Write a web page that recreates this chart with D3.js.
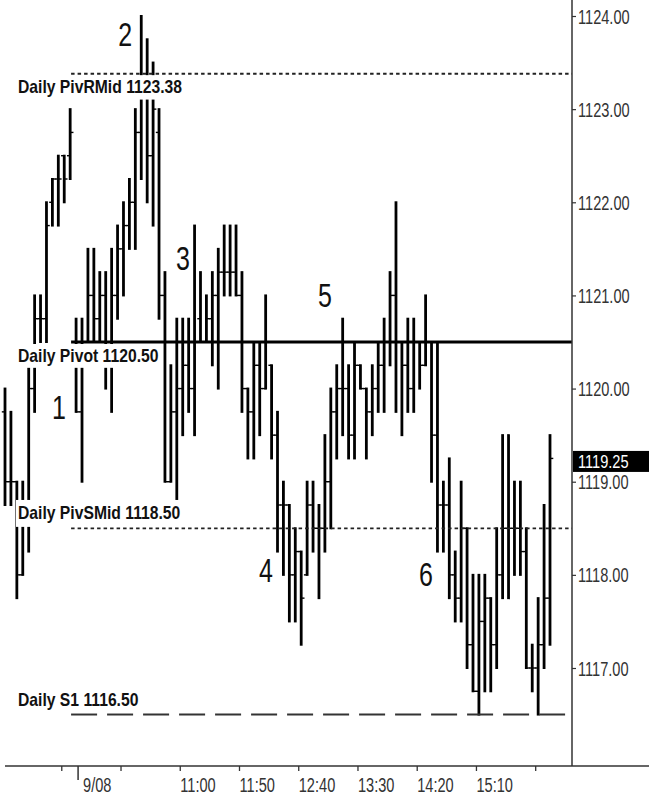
<!DOCTYPE html>
<html>
<head>
<meta charset="utf-8">
<script src="https://cdn.jsdelivr.net/npm/d3@7"></script>
<style>
  html, body { margin: 0; padding: 0; background: #fff; }
  svg { display: block; }
</style>
</head>
<body>
<svg id="chart" width="649" height="797"></svg>
<script>
// 5-minute OHLC bars, ES futures, 9/08 session (first 12 bars are the prior session's close)
const highs = [
  1120.00, 1119.75, 1119.00, 1119.00, 1120.25, 1121.00, 1121.00, 1122.00, 1122.25, 1122.50,
  1122.50, 1123.00, 1120.75, 1120.75, 1121.50, 1121.50, 1121.25, 1121.25, 1121.50, 1121.75,
  1122.00, 1122.25, 1123.00, 1124.00, 1123.75, 1123.50, 1123.00, 1121.25, 1120.25, 1120.75,
  1120.75, 1120.75, 1121.75, 1121.25, 1121.00, 1121.25, 1121.50, 1121.75, 1121.75, 1121.75,
  1121.25, 1120.00, 1120.50, 1120.50, 1121.00, 1120.25, 1119.75, 1119.00, 1118.75, 1118.50,
  1118.25, 1119.00, 1119.00, 1118.75, 1119.50, 1120.00, 1120.25, 1120.75, 1120.25, 1120.50,
  1120.25, 1120.00, 1120.25, 1120.50, 1120.75, 1121.25, 1122.00, 1120.50, 1120.75, 1120.75,
  1120.50, 1121.00, 1120.50, 1120.50, 1119.00, 1119.25, 1118.25, 1119.00, 1118.50, 1118.00,
  1118.00, 1118.00, 1117.75, 1118.50, 1119.50, 1119.50, 1119.00, 1119.00, 1118.50, 1117.25,
  1117.75, 1118.75, 1119.50
];
const lows = [
  1118.75, 1118.75, 1117.75, 1118.00, 1118.25, 1119.75, 1120.50, 1120.50, 1121.75, 1121.75,
  1122.00, 1122.25, 1119.75, 1119.00, 1120.50, 1120.50, 1120.50, 1120.00, 1119.75, 1120.75,
  1121.00, 1121.50, 1121.50, 1122.25, 1122.00, 1121.75, 1120.75, 1119.00, 1119.00, 1118.75,
  1119.50, 1119.75, 1119.50, 1120.50, 1120.50, 1120.25, 1120.00, 1121.00, 1121.00, 1121.00,
  1119.75, 1119.25, 1119.25, 1119.50, 1120.00, 1119.25, 1118.25, 1118.00, 1117.50, 1117.50,
  1117.25, 1118.00, 1118.25, 1117.75, 1118.25, 1118.50, 1119.25, 1119.50, 1119.25, 1119.25,
  1120.00, 1119.25, 1119.50, 1119.75, 1119.75, 1120.25, 1119.75, 1119.50, 1119.75, 1119.75,
  1120.00, 1120.25, 1119.00, 1118.25, 1118.25, 1117.75, 1117.50, 1117.50, 1117.00, 1116.75,
  1116.50, 1116.75, 1116.75, 1117.00, 1117.75, 1117.75, 1118.00, 1118.00, 1117.00, 1116.75,
  1116.50, 1117.00, 1117.25
];
const opens = [
  1119.75, 1119.00, 1119.00, 1118.00, 1118.75, 1120.00, 1120.75, 1120.75, 1122.00, 1122.25,
  1122.50, 1122.50, 1120.50, 1119.75, 1120.50, 1121.00, 1120.75, 1121.00, 1120.25, 1121.00,
  1121.50, 1121.75, 1122.00, 1122.75, 1123.25, 1122.50, 1122.75, 1121.00, 1119.00, 1119.75,
  1120.00, 1120.25, 1120.00, 1120.75, 1120.50, 1120.75, 1121.00, 1121.25, 1121.25, 1121.25,
  1121.00, 1120.00, 1119.75, 1120.25, 1120.00, 1120.25, 1119.50, 1118.75, 1118.75, 1118.00,
  1118.25, 1118.00, 1118.75, 1118.50, 1118.50, 1119.00, 1119.75, 1120.00, 1120.00, 1119.50,
  1120.25, 1120.00, 1119.75, 1120.00, 1120.25, 1120.50, 1121.00, 1120.50, 1120.25, 1120.00,
  1120.50, 1120.25, 1120.50, 1119.50, 1118.75, 1118.75, 1118.00, 1117.75, 1118.50, 1117.25,
  1116.75, 1117.50, 1117.75, 1117.25, 1118.00, 1118.50, 1118.50, 1118.50, 1118.25, 1117.00,
  1117.00, 1117.25, 1117.75
];
const closes = [
  1119.00, 1119.00, 1118.00, 1118.75, 1120.00, 1120.75, 1120.75, 1121.75, 1122.25, 1122.25,
  1122.25, 1122.75, 1119.75, 1120.50, 1121.00, 1120.75, 1121.00, 1120.25, 1121.00, 1121.50,
  1121.75, 1122.00, 1122.75, 1123.25, 1122.50, 1123.00, 1121.00, 1119.00, 1119.75, 1120.00,
  1120.25, 1120.00, 1120.50, 1120.50, 1120.75, 1121.00, 1121.25, 1121.25, 1121.25, 1121.00,
  1120.00, 1119.75, 1120.25, 1120.00, 1120.50, 1119.50, 1118.75, 1118.75, 1118.00, 1118.25,
  1117.75, 1118.75, 1118.50, 1118.50, 1119.00, 1119.75, 1120.00, 1120.00, 1119.50, 1120.25,
  1120.00, 1119.75, 1120.00, 1120.25, 1120.50, 1121.00, 1120.50, 1120.25, 1120.00, 1120.50,
  1120.25, 1120.50, 1119.50, 1118.75, 1118.75, 1118.00, 1117.75, 1118.50, 1117.25, 1116.75,
  1117.50, 1117.75, 1117.25, 1118.00, 1118.50, 1118.50, 1118.50, 1118.25, 1117.00, 1117.00,
  1117.25, 1117.75, 1119.25
];

// Price axis
const priceTicks = [1124, 1123, 1122, 1121, 1120, 1119, 1118, 1117];
const lastPrice = 1119.25;

// Time axis: a tick every 10 bars, placed at the start of that bar
const timeTickBars = [10, 20, 30, 40, 50, 60, 70, 80, 90];
const timeTickLabels = ["", "", "11:00", "11:50", "12:40", "13:30", "14:20", "15:10", ""];
const sessionStartBar = 12;
const sessionLabel = "9/08";

// Daily pivot levels
const levelNames = ["Daily PivRMid", "Daily Pivot", "Daily PivSMid", "Daily S1"];
const levelValues = [1123.38, 1120.50, 1118.50, 1116.50];

// Swing annotations: label, bar anchor, price anchor
const noteLabels = ["1", "2", "3", "4", "5", "6"];
const noteBars = [9.1, 20.3, 30.05, 44.05, 54.0, 71.05];
const notePrices = [1119.80, 1123.80, 1121.40, 1118.05, 1121.00, 1118.00];

const svg = d3.select("#chart");
const FONT = "'Liberation Sans', Arial, Helvetica, sans-serif";

const x = d3.scaleLinear().domain([0, highs.length - 1]).range([5, 550]);
const y = d3.scaleLinear().domain([1117, 1124]).range([668, 16]);

const plotRight = 572;
const axisY = 766;
const levelStart = x(sessionStartBar) - 5;

const bars = d3.range(highs.length).map(i => ({
  i, o: opens[i], h: highs[i], l: lows[i], c: closes[i]
}));

// OHLC bars
const barG = svg.append("g").attr("stroke", "#000");
barG.selectAll("line.hl").data(bars).join("line")
  .attr("class", "hl")
  .attr("x1", d => x(d.i)).attr("x2", d => x(d.i))
  .attr("y1", d => y(d.h) - 1).attr("y2", d => y(d.l) + 1)
  .attr("stroke-width", 2.8);
barG.selectAll("line.op").data(bars).join("line")
  .attr("class", "op")
  .attr("x1", d => x(d.i) - 3.2).attr("x2", d => x(d.i))
  .attr("y1", d => y(d.o)).attr("y2", d => y(d.o))
  .attr("stroke-width", 1.4);
barG.selectAll("line.cl").data(bars).join("line")
  .attr("class", "cl")
  .attr("x1", d => x(d.i)).attr("x2", d => x(d.i) + 3.3)
  .attr("y1", d => y(d.c)).attr("y2", d => y(d.c))
  .attr("stroke-width", 1.4);

// Pivot level lines
const levelStroke = ["3.5,3", null, "3.5,3", "26,10"];
const levelWidth = [1.8, 3, 1.8, 2];
const levelColor = ["#222", "#000", "#222", "#333"];
levelValues.forEach((v, k) => {
  svg.append("line")
    .attr("x1", levelStart).attr("x2", plotRight)
    .attr("y1", y(v)).attr("y2", y(v))
    .attr("stroke", levelColor[k])
    .attr("stroke-width", levelWidth[k])
    .attr("stroke-dasharray", levelStroke[k]);
});

// Level labels on white plates (below the line for the upper two, above for the lower two)
const labelSize = 15.7, labelStretch = 1.19;
levelValues.forEach((v, k) => {
  const below = k < 2;
  const baseline = below ? y(v) + 19.5 : y(v) - 9;
  const plate = svg.append("rect").attr("fill", "#fff");
  const t = svg.append("text")
    .attr("transform", `translate(18,${baseline}) scale(1,${labelStretch})`)
    .attr("font-family", FONT).attr("font-weight", "bold")
    .attr("font-size", labelSize).attr("fill", "#111")
    .text(`${levelNames[k]} ${v.toFixed(2)}`);
  const bb = t.node().getBBox();
  const textTop = baseline + bb.y * labelStretch;
  const textBottom = baseline + (bb.y + bb.height) * labelStretch;
  const top = below ? y(v) + levelWidth[k] / 2 + 0.5 : textTop - 2;
  const bottom = below ? textBottom + 2 : y(v) - levelWidth[k] / 2 - 0.5;
  plate.attr("x", 18 + bb.x - 2).attr("width", bb.width + 4)
    .attr("y", top).attr("height", bottom - top);
});

// Swing annotations
const noteSize = 25, noteStretch = 1.3;
noteLabels.forEach((s, k) => {
  const cx = x(noteBars[k]);
  const cy = y(notePrices[k]);
  svg.append("text")
    .attr("transform", `translate(${cx},${cy + 0.358 * noteSize * noteStretch}) scale(1,${noteStretch})`)
    .attr("text-anchor", "middle")
    .attr("font-family", FONT).attr("font-size", noteSize).attr("fill", "#111")
    .text(s);
});

// Price axis on the right
const axisSize = 14.6, axisStretch = 1.34;
const yAxis = svg.append("g")
  .attr("transform", `translate(${plotRight},0)`)
  .call(d3.axisRight(y).tickValues(priceTicks).tickSize(4).tickPadding(2)
    .tickFormat(d3.format(".2f")));
yAxis.select(".domain").remove();
yAxis.selectAll(".tick line").attr("stroke", "#333").attr("stroke-width", 1.2);
yAxis.selectAll(".tick text")
  .attr("font-family", FONT).attr("font-size", axisSize).attr("fill", "#333")
  .attr("dy", null)
  .attr("transform", `translate(0,${0.358 * axisSize * axisStretch}) scale(1,${axisStretch})`)
  .attr("y", 0);

svg.append("line")
  .attr("x1", plotRight).attr("x2", plotRight)
  .attr("y1", 0).attr("y2", axisY)
  .attr("stroke", "#333").attr("stroke-width", 1.5);

// Last price marker
const lpY = y(lastPrice) + 3;
svg.append("rect")
  .attr("x", plotRight + 1).attr("y", lpY - 10.5)
  .attr("width", 649 - plotRight - 1).attr("height", 21)
  .attr("fill", "#000");
svg.append("text")
  .attr("transform", `translate(${plotRight + 6},${lpY + 0.358 * axisSize * 1.2}) scale(1,1.2)`)
  .attr("font-family", FONT).attr("font-size", axisSize).attr("fill", "#fff")
  .text(lastPrice.toFixed(2));

// Time axis along the bottom
const xAxis = svg.append("g")
  .attr("transform", `translate(0,${axisY})`)
  .call(d3.axisBottom(x).tickValues(timeTickBars.map(b => b - 0.5)).tickSize(5).tickPadding(0)
    .tickFormat((d, k) => timeTickLabels[k]));
xAxis.select(".domain").remove();
xAxis.selectAll(".tick line").attr("stroke", "#333").attr("stroke-width", 1.3);
xAxis.selectAll(".tick text")
  .attr("font-family", FONT).attr("font-size", axisSize).attr("fill", "#333")
  .attr("text-anchor", "start").attr("dy", null).attr("y", 0)
  .attr("transform", `translate(0,26) scale(1,${axisStretch})`);

svg.append("line")
  .attr("x1", 5).attr("x2", 649)
  .attr("y1", axisY).attr("y2", axisY)
  .attr("stroke", "#333").attr("stroke-width", 1.5);

// Session break marker
const sx = x(sessionStartBar) + 2;
svg.append("line")
  .attr("x1", sx).attr("x2", sx)
  .attr("y1", axisY).attr("y2", axisY + 14)
  .attr("stroke", "#333").attr("stroke-width", 1.5);
svg.append("text")
  .attr("transform", `translate(${sx + 5},${axisY + 26}) scale(1,${axisStretch})`)
  .attr("font-family", FONT).attr("font-size", axisSize).attr("fill", "#333")
  .text(sessionLabel);
</script>
</body>
</html>
